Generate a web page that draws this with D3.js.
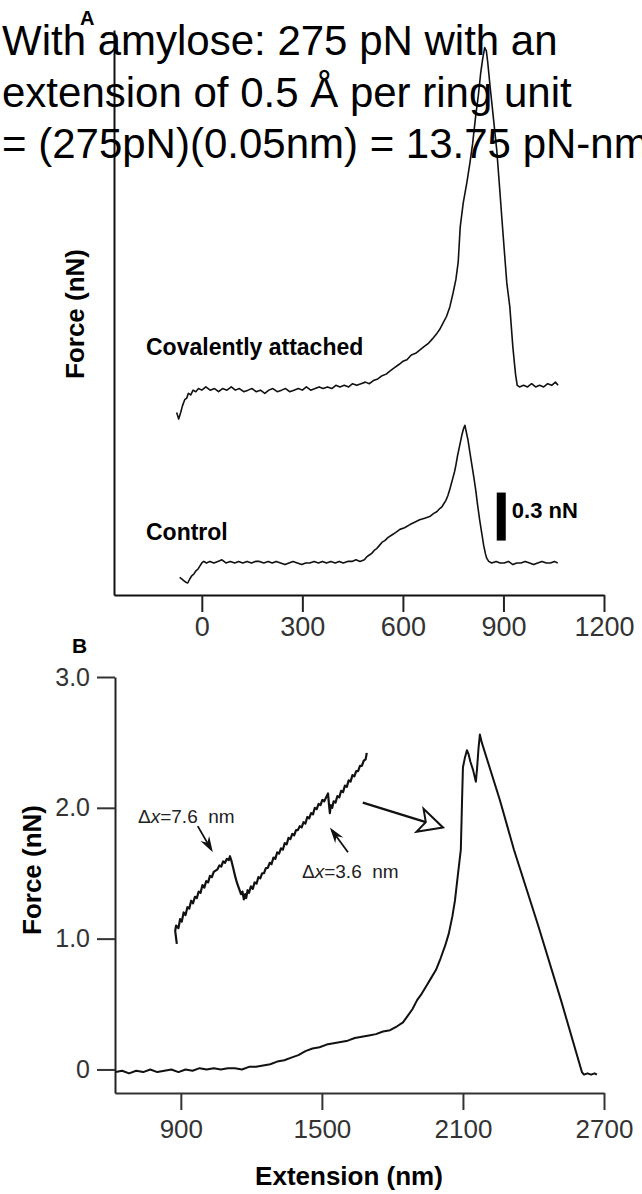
<!DOCTYPE html>
<html>
<head>
<meta charset="utf-8">
<script src="https://cdn.jsdelivr.net/npm/d3@7"></script>
<style>
  body { margin: 0; background: #fff; }
  svg { display: block; font-family: "Liberation Sans", Arial, Helvetica, sans-serif; }
</style>
</head>
<body>
<div id="chart"></div>
<script>
// Panel A: extension (nm) vs force (nN, traces offset vertically)
const aTicks = [0, 300, 600, 900, 1200];
const covalent = [[-75,1.14],[-69,1.10],[-63,1.14],[-58,1.18],[-51,1.22],[-45,1.23],[-40,1.26],[-33,1.25],[-26,1.28],[-18,1.27],[-10,1.29],[0,1.28],[12,1.30],[25,1.28],[38,1.29],[50,1.27],[62,1.29],[75,1.28],[88,1.30],[100,1.28],[112,1.29],[125,1.27],[138,1.28],[150,1.29],[162,1.27],[175,1.28],[188,1.26],[200,1.28],[212,1.29],[225,1.27],[238,1.28],[250,1.29],[262,1.27],[275,1.28],[288,1.29],[300,1.28],[312,1.30],[325,1.28],[338,1.29],[350,1.30],[362,1.29],[375,1.30],[388,1.29],[400,1.31],[412,1.30],[425,1.31],[438,1.30],[450,1.32],[462,1.31],[475,1.32],[488,1.33],[500,1.32],[512,1.34],[525,1.35],[538,1.37],[550,1.38],[562,1.40],[575,1.42],[588,1.44],[600,1.46],[612,1.47],[625,1.50],[638,1.51],[650,1.53],[662,1.55],[675,1.57],[688,1.60],[700,1.63],[710,1.66],[720,1.70],[730,1.74],[740,1.80],[750,1.89],[758,1.97],[765,2.08],[771,2.30],[780,2.45],[791,2.58],[800,2.70],[808,2.82],[817,2.99],[825,3.12],[832,3.26],[838,3.35],[844,3.42],[849,3.40],[853,3.33],[860,3.18],[867,3.04],[874,2.90],[880,2.78],[888,2.56],[895,2.36],[903,2.14],[910,1.95],[919,1.80],[928,1.55],[936,1.38],[941,1.31],[948,1.30],[960,1.31],[972,1.30],[984,1.32],[996,1.30],[1008,1.31],[1020,1.30],[1032,1.32],[1044,1.31],[1055,1.33],[1063,1.31]];
const control = [[-66,0.11],[-60,0.10],[-54,0.09],[-48,0.08],[-42,0.075],[-36,0.10],[-30,0.12],[-24,0.13],[-18,0.15],[-12,0.16],[-6,0.18],[0,0.20],[6,0.21],[14,0.20],[24,0.21],[36,0.20],[48,0.21],[60,0.22],[72,0.20],[85,0.21],[98,0.20],[110,0.21],[122,0.20],[135,0.21],[148,0.20],[160,0.21],[172,0.21],[185,0.20],[198,0.21],[210,0.20],[222,0.21],[235,0.20],[248,0.19],[260,0.20],[272,0.21],[285,0.20],[298,0.19],[310,0.20],[322,0.20],[335,0.21],[348,0.20],[360,0.21],[372,0.20],[385,0.21],[398,0.20],[410,0.21],[422,0.20],[435,0.21],[448,0.21],[460,0.22],[472,0.21],[485,0.22],[493,0.24],[500,0.25],[507,0.26],[515,0.28],[522,0.29],[530,0.31],[538,0.33],[546,0.34],[556,0.36],[567,0.375],[578,0.39],[591,0.41],[605,0.42],[621,0.44],[635,0.455],[650,0.47],[665,0.48],[680,0.49],[692,0.51],[701,0.52],[710,0.54],[716,0.55],[722,0.57],[728,0.59],[734,0.62],[740,0.66],[745,0.70],[749,0.73],[754,0.77],[758,0.81],[763,0.87],[767,0.91],[772,0.96],[776,1.00],[781,1.04],[785,1.06],[789,1.02],[794,0.97],[800,0.89],[806,0.81],[812,0.73],[817,0.66],[823,0.56],[829,0.47],[835,0.39],[841,0.31],[846,0.26],[850,0.23],[856,0.21],[865,0.20],[878,0.21],[890,0.20],[902,0.20],[915,0.21],[928,0.19],[940,0.20],[952,0.20],[965,0.21],[978,0.20],[990,0.19],[1002,0.20],[1015,0.21],[1028,0.20],[1040,0.20],[1052,0.21],[1062,0.20]];
const scaleBarNN = 0.3;

// Panel B: extension (nm) vs force (nN)
const bTicksX = [900, 1500, 2100, 2700];
const bTicksY = [0, 1, 2, 3];
const bTickLabelsY = ["0", "1.0", "2.0", "3.0"];
const amylose = [[623,-0.02],[650,-0.01],[680,-0.03],[710,-0.01],[740,-0.02],[770,0.00],[800,-0.02],[830,-0.01],[860,0.00],[890,-0.02],[920,0.00],[950,-0.01],[980,0.01],[1010,0.00],[1040,0.01],[1070,0.00],[1100,0.01],[1130,0.01],[1160,0.00],[1190,0.02],[1220,0.02],[1250,0.03],[1280,0.04],[1310,0.06],[1340,0.07],[1370,0.09],[1400,0.11],[1430,0.14],[1460,0.16],[1490,0.17],[1520,0.19],[1550,0.20],[1580,0.21],[1610,0.22],[1640,0.24],[1670,0.25],[1700,0.26],[1730,0.27],[1760,0.29],[1790,0.30],[1820,0.33],[1845,0.36],[1865,0.41],[1885,0.46],[1905,0.53],[1925,0.58],[1945,0.64],[1965,0.70],[1985,0.76],[2005,0.85],[2025,0.95],[2040,1.04],[2055,1.17],[2066,1.29],[2078,1.48],[2091,1.68],[2096,2.04],[2100,2.31],[2108,2.38],[2117,2.44],[2124,2.41],[2132,2.35],[2143,2.29],[2155,2.20],[2160,2.30],[2166,2.45],[2172,2.56],[2180,2.50],[2257,2.06],[2317,1.68],[2420,1.10],[2517,0.53],[2606,-0.02],[2615,-0.04],[2630,-0.03],[2645,-0.04],[2660,-0.03],[2670,-0.04]];
// magnified sawtooth inset, drawn in panel B units
const inset = [[883,0.96],[876,1.06],[880,1.10],[890,1.08],[897,1.15],[904,1.13],[912,1.20],[920,1.18],[928,1.24],[936,1.23],[944,1.29],[952,1.27],[960,1.32],[968,1.31],[976,1.36],[984,1.35],[992,1.41],[1000,1.39],[1008,1.44],[1016,1.43],[1024,1.48],[1032,1.47],[1040,1.51],[1048,1.52],[1056,1.53],[1064,1.56],[1072,1.55],[1080,1.59],[1088,1.58],[1096,1.61],[1104,1.60],[1109,1.63],[1116,1.59],[1124,1.53],[1132,1.47],[1140,1.42],[1148,1.38],[1156,1.34],[1162,1.36],[1168,1.30],[1174,1.34],[1178,1.31],[1184,1.37],[1190,1.35],[1198,1.40],[1206,1.38],[1214,1.43],[1222,1.42],[1230,1.47],[1238,1.46],[1246,1.50],[1254,1.50],[1262,1.54],[1270,1.54],[1278,1.58],[1286,1.57],[1294,1.62],[1302,1.61],[1310,1.66],[1318,1.65],[1326,1.69],[1334,1.68],[1342,1.73],[1350,1.72],[1358,1.77],[1366,1.76],[1374,1.80],[1382,1.79],[1390,1.83],[1398,1.83],[1406,1.86],[1414,1.85],[1422,1.89],[1430,1.88],[1438,1.93],[1446,1.92],[1454,1.96],[1462,1.95],[1470,2.00],[1478,1.99],[1486,2.03],[1494,2.02],[1502,2.06],[1510,2.05],[1518,2.08],[1526,2.11],[1530,2.03],[1534,1.96],[1538,2.02],[1544,2.00],[1550,2.05],[1558,2.04],[1566,2.09],[1574,2.08],[1582,2.13],[1590,2.12],[1598,2.17],[1606,2.16],[1614,2.21],[1622,2.20],[1630,2.25],[1638,2.24],[1646,2.28],[1654,2.28],[1662,2.32],[1670,2.32],[1678,2.36],[1686,2.37],[1691,2.42]];

const noteLines = ["With amylose: 275 pN with an", "extension of 0.5 Å per ring unit", "= (275pN)(0.05nm) = 13.75 pN-nm"];

const W = 642, H = 1194;
const svg = d3.select('#chart').append('svg').attr('width', W).attr('height', H);
svg.append('rect').attr('width', W).attr('height', H).attr('fill', '#fff');

const line = d3.line();
const fmt = d3.format('d');

// ---------- panel A ----------
const xA = d3.scaleLinear().domain([-262, 1200]).range([114, 604]);
const yA = d3.scaleLinear().domain([0, 3.53]).range([595, 30]);

const gA = svg.append('g');
gA.append('g').attr('transform', 'translate(0,595)')
  .call(d3.axisBottom(xA).tickValues(aTicks).tickFormat(fmt).tickSize(17).tickPadding(5).tickSizeOuter(0))
  .call(g => g.select('.domain').attr('stroke', '#111').attr('stroke-width', 2))
  .call(g => g.selectAll('.tick line').attr('stroke', '#222').attr('stroke-width', 2))
  .call(g => g.selectAll('.tick text').attr('font-size', 27).attr('fill', '#333')
    .attr('font-family', '"Liberation Sans", Arial, sans-serif'));
gA.append('g').attr('transform', 'translate(114,0)')
  .call(d3.axisLeft(yA).tickValues([]).tickSizeOuter(0))
  .call(g => g.select('.domain').attr('stroke', '#111').attr('stroke-width', 2));

[covalent, control].forEach(d => {
  gA.append('path')
    .attr('d', line(d.map(p => [xA(p[0]), yA(p[1])])))
    .attr('fill', 'none').attr('stroke', '#111').attr('stroke-width', 1.6)
    .attr('stroke-linejoin', 'round');
});

// 0.3 nN scale bar
const barBase = 0.34;
gA.append('rect')
  .attr('x', xA(880)).attr('width', 9)
  .attr('y', yA(barBase + scaleBarNN)).attr('height', yA(barBase) - yA(barBase + scaleBarNN))
  .attr('fill', '#000');
gA.append('text').attr('x', xA(925)).attr('y', 518)
  .attr('font-size', 22).attr('font-weight', 'bold').text('0.3 nN');

gA.append('text').attr('x', 146).attr('y', 355)
  .attr('font-size', 23).attr('font-weight', 'bold').text('Covalently attached');
gA.append('text').attr('x', 146).attr('y', 540)
  .attr('font-size', 23).attr('font-weight', 'bold').text('Control');
gA.append('text').attr('transform', 'translate(84,314) rotate(-90)')
  .attr('text-anchor', 'middle').attr('font-size', 26).attr('font-weight', 'bold')
  .text('Force (nN)');
gA.append('text').attr('x', 80).attr('y', 25)
  .attr('font-size', 20).attr('font-weight', 'bold').text('A');

// ---------- panel B ----------
const xB = d3.scaleLinear().domain([620, 2700]).range([115, 604]);
const yB = d3.scaleLinear().domain([-0.18, 3.0]).range([1093, 677]);

const gB = svg.append('g');
gB.append('g').attr('transform', 'translate(0,1093)')
  .call(d3.axisBottom(xB).tickValues(bTicksX).tickFormat(fmt).tickSize(17).tickPadding(10).tickSizeOuter(0))
  .call(g => g.select('.domain').attr('stroke', '#333').attr('stroke-width', 2))
  .call(g => g.selectAll('.tick line').attr('stroke', '#333').attr('stroke-width', 2))
  .call(g => g.selectAll('.tick text').attr('font-size', 26).attr('fill', '#333')
    .attr('font-family', '"Liberation Sans", Arial, sans-serif'));
gB.append('g').attr('transform', 'translate(115,0)')
  .call(d3.axisLeft(yB).tickValues(bTicksY).tickFormat((d, i) => bTickLabelsY[i])
    .tickSize(18).tickPadding(7).tickSizeOuter(0))
  .call(g => g.select('.domain').attr('stroke', '#222').attr('stroke-width', 2))
  .call(g => g.selectAll('.tick line').attr('stroke', '#333').attr('stroke-width', 2))
  .call(g => g.selectAll('.tick text').attr('font-size', 25).attr('fill', '#333')
    .attr('font-family', '"Liberation Sans", Arial, sans-serif'));

gB.append('path')
  .attr('d', line(amylose.map(p => [xB(p[0]), yB(p[1])])))
  .attr('fill', 'none').attr('stroke', '#111').attr('stroke-width', 2)
  .attr('stroke-linejoin', 'round');
gB.append('path')
  .attr('d', line(inset.map(p => [xB(p[0]), yB(p[1])])))
  .attr('fill', 'none').attr('stroke', '#111').attr('stroke-width', 2.2)
  .attr('stroke-linejoin', 'round');

// open arrow from inset to the peak
function openArrow(from, to) {
  const x0 = xB(from[0]), y0 = yB(from[1]), x1 = xB(to[0]), y1 = yB(to[1]);
  const len = Math.hypot(x1 - x0, y1 - y0), ux = (x1 - x0) / len, uy = (y1 - y0) / len;
  const bx = x1 - 24 * ux, by = y1 - 24 * uy;
  gB.append('line').attr('x1', x0).attr('y1', y0).attr('x2', bx + 6 * ux).attr('y2', by + 6 * uy)
    .attr('stroke', '#111').attr('stroke-width', 2.2);
  gB.append('path')
    .attr('d', `M${x1},${y1}L${bx - 12 * uy},${by + 12 * ux}L${bx + 6 * ux},${by + 6 * uy}L${bx + 12 * uy},${by - 12 * ux}Z`)
    .attr('fill', '#fff').attr('stroke', '#111').attr('stroke-width', 2);
}
openArrow([1674, 2.04], [2015, 1.85]);

// small filled pointers at the two rupture events
function pointer(from, to) {
  const x0 = xB(from[0]), y0 = yB(from[1]), x1 = xB(to[0]), y1 = yB(to[1]);
  const len = Math.hypot(x1 - x0, y1 - y0), ux = (x1 - x0) / len, uy = (y1 - y0) / len;
  const bx = x1 - 16 * ux, by = y1 - 16 * uy;
  gB.append('line').attr('x1', x0).attr('y1', y0).attr('x2', x1 - 4 * ux).attr('y2', y1 - 4 * uy)
    .attr('stroke', '#111').attr('stroke-width', 1.8);
  gB.append('path')
    .attr('d', `M${x1},${y1}L${bx - 5 * uy},${by + 5 * ux}L${bx + 5 * ux},${by + 5 * uy}L${bx + 5 * uy},${by - 5 * ux}Z`)
    .attr('fill', '#111');
}
pointer([972, 1.86], [1036, 1.66]);
pointer([1611, 1.66], [1534, 1.85]);

const dx1 = gB.append('text').attr('x', 138).attr('y', 823).attr('font-size', 19).attr('fill', '#222');
dx1.append('tspan').text('Δ');
dx1.append('tspan').attr('font-style', 'italic').text('x');
dx1.append('tspan').text('=7.6  nm');
const dx2 = gB.append('text').attr('x', 302).attr('y', 878).attr('font-size', 19).attr('fill', '#222');
dx2.append('tspan').text('Δ');
dx2.append('tspan').attr('font-style', 'italic').text('x');
dx2.append('tspan').text('=3.6  nm');
svg.selectAll('tspan').style('white-space', 'pre');

gB.append('text').attr('transform', 'translate(41,870) rotate(-90)')
  .attr('text-anchor', 'middle').attr('font-size', 26).attr('font-weight', 'bold')
  .text('Force (nN)');
gB.append('text').attr('x', 349).attr('y', 1185).attr('text-anchor', 'middle')
  .attr('font-size', 26).attr('font-weight', 'bold').text('Extension (nm)');
gB.append('text').attr('x', 72).attr('y', 653)
  .attr('font-size', 21).attr('font-weight', 'bold').text('B');

// overlaid note text
svg.append('g').selectAll('text').data(noteLines).join('text')
  .attr('x', 2).attr('y', (d, i) => 55 + i * 51.5)
  .attr('font-size', 42).attr('fill', '#000').text(d => d);
</script>
</body>
</html>
